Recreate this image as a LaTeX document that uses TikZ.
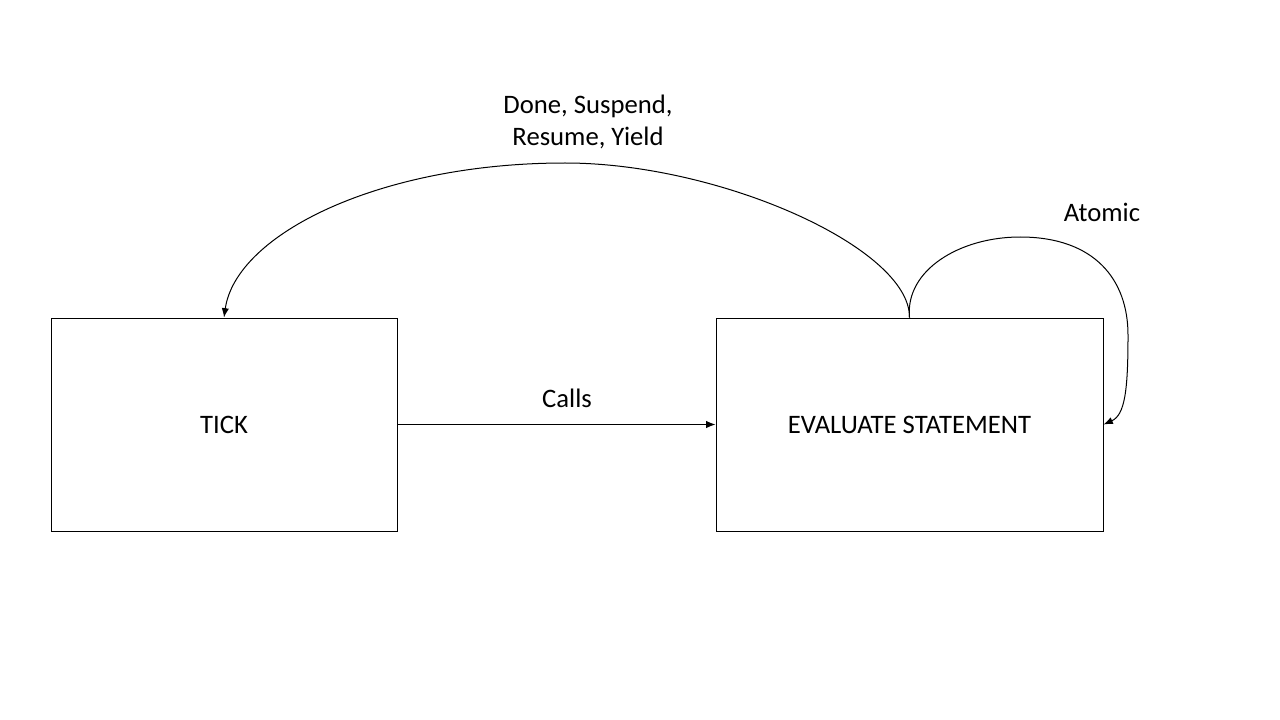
\documentclass[tikz,border=0pt]{standalone}
\usepackage{fontspec}
\setmainfont{Carlito}
\usetikzlibrary{arrows.meta}
\tikzset{
  box/.style={draw, line width=0.75pt, minimum height=159.75pt, inner sep=0pt},
  lbl/.style={font=\fontsize{20}{24}\selectfont, align=center, inner sep=0pt}
}
\begin{document}
\begin{tikzpicture}[x=0.75pt, y=-0.75pt, line width=0.75pt, >={Latex[length=7pt,width=5.5pt]}]
     \useasboundingbox (0,0) rectangle (1280,720);
     \node[box, minimum width=259.5pt, lbl] (tick) at (224,424.5) {TICK};
     \node[box, minimum width=290.25pt, lbl] (eval) at (909.5,424.5) {EVALUATE STATEMENT};

     \draw[->] (tick.east) -- (eval.west);
     \node[lbl] (calls) at (567,398) {Calls};

     \coordinate (top) at (565,163);
     \draw[->] (eval.north) .. controls (910,248) and (720,163) .. (top)
          .. controls (380,163) and (236,234) .. (tick.north);
     \node[lbl] (result) at (588,122) {Done, Suspend,\\Resume, Yield};

     \draw[->] (eval.north) .. controls (905,270) and (960,237) .. (1020,237)
          .. controls (1095,237) and (1128,280) .. (1128,335)
          .. controls (1128,390) and (1125,415) .. (eval.east);
     \node[lbl] (atomic) at (1102,212) {Atomic};
\end{tikzpicture}
\end{document}
